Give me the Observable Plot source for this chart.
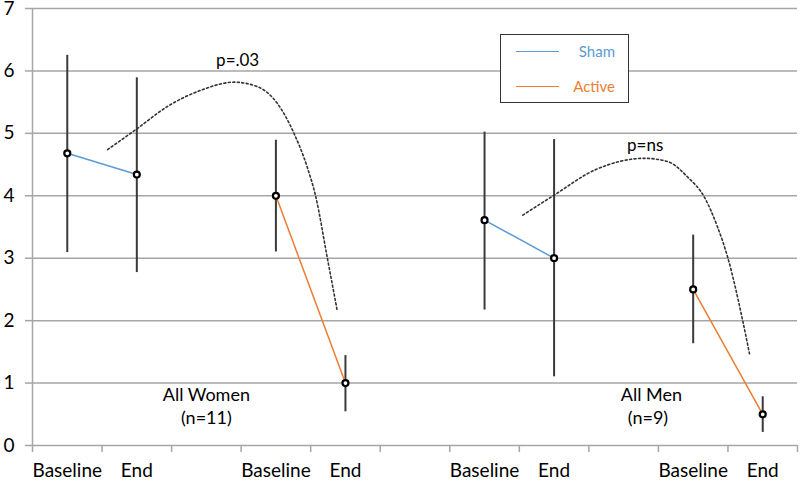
<!DOCTYPE html>
<html>
<head>
<meta charset="utf-8">
<script src="https://cdn.jsdelivr.net/npm/d3@7"></script>
<script src="https://cdn.jsdelivr.net/npm/@observablehq/plot@0.6"></script>
<style>
  html, body { margin: 0; padding: 0; background: #fff; }
  #wrap { position: relative; width: 800px; height: 481px; font-family: Lato, "Open Sans", sans-serif; }
  #legend { position: absolute; left: 500px; top: 34px; width: 127px; height: 67px; border: 1.5px solid #333; background: #fff; }
  .lg-row { position: absolute; left: 0; width: 100%; height: 20px; }
  .lg-line { position: absolute; left: 15px; width: 43px; top: 9px; border-top: 1.5px solid; }
  .lg-text { position: absolute; right: 13px; top: 0px; font-size: 15px; }
</style>
</head>
<body>
<div id="wrap">
  <div id="chart"></div>
  <div id="legend"></div>
</div>
<script>
// x categories (11 slots on an Excel-like category axis)
const categories = ["Baseline", "End", "", "Baseline", "End", "", "Baseline", "End", "", "Baseline", "End"];
const yTicks = [0, 1, 2, 3, 4, 5, 6, 7];

// points: category slot (1-based), group, condition
const pointSlot = [1, 2, 4, 5, 7, 8, 10, 11];
const pointGroup = ["Women", "Women", "Women", "Women", "Men", "Men", "Men", "Men"];
const pointCondition = ["Sham", "Sham", "Active", "Active", "Sham", "Sham", "Active", "Active"];
const means = [4.68, 4.34, 4.00, 1.00, 3.61, 3.00, 2.50, 0.50];
const upper = [6.25, 5.89, 4.89, 1.44, 5.02, 4.90, 3.37, 0.78];
const lower = [3.09, 2.77, 3.10, 0.54, 2.17, 1.10, 1.63, 0.21];

// dotted annotation curves (slot, value)
const womenCurveX = [1.58, 2.01, 2.44, 2.92, 3.40, 3.73, 4.02, 4.26, 4.45, 4.57, 4.74, 4.88];
const womenCurveY = [4.74, 5.08, 5.43, 5.69, 5.82, 5.75, 5.48, 5.00, 4.46, 4.00, 3.00, 2.17];
const menCurveX = [7.55, 8.00, 8.58, 9.30, 9.63, 9.92, 10.16, 10.35, 10.50, 10.71, 10.81];
const menCurveY = [3.69, 4.01, 4.41, 4.60, 4.55, 4.30, 3.98, 3.50, 3.00, 2.01, 1.47];

// annotation texts
const noteText = ["p=.03", "p=ns", "All Women", "(n=11)", "All Men", "(n=9)"];
const noteX = [3.45, 9.31, 3.0, 3.0, 9.4, 9.35];
const noteY = [6.16, 4.81, 0.81, 0.43, 0.81, 0.43];
const noteSize = [17, 17, 18, 18, 18, 18];

const legendNames = ["Sham", "Active"];
const legendColors = ["#5b9bd5", "#ed7d31"];

const points = pointSlot.map((s, i) => ({
  x: s, group: pointGroup[i], condition: pointCondition[i],
  mean: means[i], hi: upper[i], lo: lower[i], pair: pointGroup[i] + "-" + pointCondition[i]
}));
const curves = [
  ...womenCurveX.map((x, i) => ({x, y: womenCurveY[i], c: "W"})),
  ...menCurveX.map((x, i) => ({x, y: menCurveY[i], c: "M"}))
];
const notes = noteText.map((t, i) => ({t, x: noteX[i], y: noteY[i], s: noteSize[i]}));
const boundaries = d3.range(categories.length + 1).map(i => i + 0.5);
const slots = d3.range(1, categories.length + 1);
const colorOf = c => legendColors[legendNames.indexOf(c)];

const gridColor = "#a6a6a6";
const font = "Lato, 'Open Sans', sans-serif";

const chart = Plot.plot({
  width: 800,
  height: 481,
  marginLeft: 32,
  marginRight: 3,
  marginTop: 8,
  marginBottom: 36,
  style: { fontFamily: font, fontSize: "18px", color: "#000", background: "#fff", overflow: "visible" },
  x: { type: "linear", domain: [0.5, categories.length + 0.5] },
  y: { domain: [0, 7] },
  marks: [
    Plot.gridY(yTicks, { stroke: gridColor, strokeOpacity: 1, strokeWidth: 1.5 }),
    Plot.axisY(yTicks, { tickSize: 7, tickPadding: 11, tickFormat: d => String(d), stroke: gridColor, strokeWidth: 1.5, fill: "#000", fontSize: 19, label: null }),
    Plot.ruleX([boundaries[0]], { y1: 0, y2: 7, stroke: gridColor, strokeWidth: 1.5 }),
    Plot.axisX(boundaries, { tickSize: 7, tickFormat: () => "", stroke: gridColor, strokeWidth: 1.5, label: null }),
    Plot.axisX(slots, { tickSize: 0, tickPadding: 18, tickFormat: i => categories[i - 1], fill: "#000", fontSize: 19, label: null }),
    Plot.ruleX(points, { x: "x", y1: "lo", y2: "hi", stroke: "#3a3a3a", strokeWidth: 2 }),
    Plot.line(points, { x: "x", y: "mean", z: "pair", stroke: d => colorOf(d.condition), strokeWidth: 1.5 }),
    Plot.line(curves, { x: "x", y: "y", z: "c", curve: "monotone-x", stroke: "#333", strokeWidth: 1.6, strokeDasharray: "2,2.5" }),
    Plot.dot(points, { x: "x", y: "mean", r: 3, fill: "#fff", stroke: "#000", strokeWidth: 2.2 }),
    Plot.text(notes, { x: "x", y: "y", text: "t", fontSize: "s", fill: "#000" })
  ]
});
document.getElementById("chart").appendChild(chart);

const lg = document.getElementById("legend");
legendNames.forEach((name, i) => {
  const row = document.createElement("div");
  row.className = "lg-row";
  row.style.top = (7 + i * 35) + "px";
  const line = document.createElement("div");
  line.className = "lg-line";
  line.style.borderTopColor = legendColors[i];
  const txt = document.createElement("div");
  txt.className = "lg-text";
  txt.style.color = legendColors[i];
  txt.textContent = name;
  row.appendChild(line);
  row.appendChild(txt);
  lg.appendChild(row);
});
</script>
</body>
</html>
